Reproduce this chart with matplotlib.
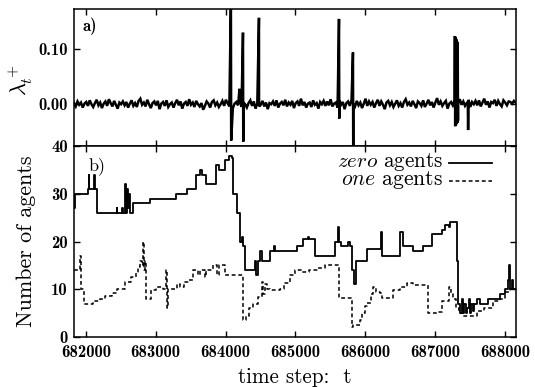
import matplotlib
matplotlib.use("Agg")
import matplotlib.pyplot as plt
from matplotlib.lines import Line2D

plt.rcParams['mathtext.fontset'] = 'cm'
plt.rcParams['axes.unicode_minus'] = False
plt.rcParams['font.family'] = ['cmr10', 'DejaVu Serif']

# ---------------- data ----------------
# panel a) : lambda_t^+ background fluctuation (thousandths), every 25 steps from 681830
lam_start = 681830
lam_step = 25
lam_noise = [2, -4, 5, -1, 3, -6, 1, 4, -3, 7,
             0, -5, 2, 8, -2, 3, -7, 1, 5, -3,
             9, 2, -4, 6, -1, -8, 3, 0, 5, -2,
             4, -6, 1, 7, -3, 2, -5, 6, 10, -1,
             3, -4, 8, 0, -7, 2, 5, -2, 6, -9,
             1, 4, -3, 7, -5, 0, 3, -6, 2, 8,
             -2, 5, -8, 1, 4, -3, 9, -1, 3, -5,
             6, 0, -4, 2, -10, -3, 5, 1, -6, 4,
             7, -2, 3, -5, 0, 6, -3, 8, 2, -4,
             5, -7, 1, 4, -2, 9, -5, 3, 0, -6,
             2, 7, -3, 5, -8, 1, 4, -1, 6, -4,
             3, -9, 2, 0, 5, -3, 7, -6, 1, 4,
             -2, 8, -4, 3, -1, 6, -7, 2, 5, -3,
             10, -2, 4, -6, 1, 3, -5, 7, -1, 2,
             -8, 4, 0, 6, -3, 5, -2, 9, -4, 1,
             3, -6, 7, -1, 4, -9, 2, 5, -3, 8,
             0, -4, 6, -2, 3, -7, 1, 10, -3, 5,
             -1, 4, -6, 2, 8, -3, 5, -1, -9, 3,
             6, -2, 4, -5, 1, 7, -3, 2, -6, 4,
             9, -1, 3, -4, 6, 0, -7, 5, 2, -3,
             7, -5, 1, 8, -2, 4, -6, 3, 11, -1,
             5, -3, 2, 6, -8, 1, 4, -2, 7, -4,
             3, 9, -1, 5, -3, 2, 8, -5, 4, 0,
             6, -2, 7, -4, 3, 10, -1, 5, -6, 4,
             2, 8, -3, 6, 0, -4, 7, 3, -2, 5,
             4, 1, 6]
lam_end_t = 688160
lam_end_v = 2
spike_t = [684077, 684200, 684250, 684479, 685625, 685825,
           687285, 687295, 687305, 687315, 687325, 687470]
spike_hi = [0.185, 0.028, 0.130, 0.157, 0.155, 0.094,
            0.124, 0.122, 0.118, 0.114, 0.112, 0.000]
spike_lo = [-0.066, 0.020, -0.068, -0.004, -0.026, -0.085,
            -0.040, -0.038, -0.036, -0.034, -0.030, -0.047]

# panel b) : zero agents (solid)
zero_t = [681830, 681845, 682030, 682040, 682050, 682120, 682135, 682160, 682440, 682450,
          682520, 682530, 682560, 682575, 682590, 682605, 682620, 682635, 682670, 682920,
          683290, 683450, 683580, 683640, 683660, 683720, 683870, 683900, 683990, 684050,
          684092, 684100, 684160, 684205, 684235, 684250, 684275, 684420, 684440, 684460,
          684500, 684520, 684640, 684700, 684710, 685020, 685110, 685180, 685200, 685280,
          685570, 685610, 685625, 685660, 685760, 685780, 685810, 685840, 685870, 686030,
          686230, 686245, 686500, 686540, 686680, 686830, 686960, 687100, 687150, 687200,
          687220, 687320, 687335, 687360, 687380, 687400, 687420, 687440, 687460, 687480,
          687500, 687520, 687540, 687560, 687600, 687640, 687760, 687780, 687930, 688000,
          688040, 688060, 688075, 688100, 688120, 688160]
zero_v = [27, 30, 31, 34, 31, 34, 31, 26, 27, 26,
          27, 26, 32, 26, 31, 27, 30, 26, 28, 29,
          30, 31, 34, 35, 34, 32, 36, 35, 37, 38,
          37.5, 30, 26, 20, 21, 19, 14, 16, 13, 16,
          18, 16, 18, 19, 18, 19, 20.5, 21, 20.5, 17,
          20, 23, 20, 19, 20, 19, 14, 11, 16, 18.5,
          22, 17, 22, 19, 18, 19, 21.5, 22.5, 23.5, 23,
          24, 16, 7, 5, 8, 5, 7, 5, 6, 8,
          5, 7, 5.5, 7, 8, 7, 8, 8, 9, 10,
          12, 15, 10, 12, 10, 10]

# panel b) : one agents (dashed)
one_t = [681830, 681920, 681935, 681975, 682100, 682200, 682280, 682380, 682450, 682560,
         682650, 682720, 682750, 682780, 682800, 682820, 682835, 682850, 682860, 682930,
         683000, 683100, 683150, 683160, 683175, 683300, 683350, 683400, 683480, 683530,
         683600, 683630, 683700, 683720, 683820, 683880, 683900, 683990, 684250, 684290,
         684330, 684400, 684460, 684520, 684540, 684570, 684600, 684640, 684780, 684840,
         684920, 684995, 685100, 685190, 685330, 685420, 685620, 685810, 685820, 685920,
         685960, 686000, 686030, 686080, 686110, 686160, 686210, 686240, 686400, 686500,
         686600, 686690, 686900, 687050, 687100, 687200, 687230, 687260, 687300, 687350,
         687400, 687560, 687600, 687700, 687830, 687930, 688000, 688070, 688160]
one_v = [14, 17, 10, 7, 7.5, 8, 8.5, 9.2, 10, 11.5,
         12.5, 13.5, 14.7, 16, 15, 20, 14, 16, 8, 9.8,
         10.5, 10, 14, 6, 10, 11, 10.5, 11.5, 12, 14,
         13, 14, 12.5, 14, 15, 13, 15, 13, 3.6, 4.5,
         6, 7, 8.4, 11.5, 9, 11, 10, 9.8, 10, 11.3,
         13, 14, 13.6, 14, 14.4, 15.1, 8.2, 2.1, 2.5, 3.6,
         5, 6.5, 7.1, 9, 10.5, 9.5, 9.2, 8.2, 9.8, 10.5,
         11.3, 10.9, 5, 5.2, 7.5, 10.5, 9, 8, 6, 5,
         4.5, 4.5, 5.5, 6, 7.5, 8, 9.5, 10, 10]

xticks = [682000, 683000, 684000, 685000, 686000, 687000, 688000]
xlim = (681830, 688160)
ylim_a = (-0.076, 0.173)
yticks_a = [0.0, 0.1]
yticklabels_a = ['0.00', '0.10']
ylim_b = (0, 40)
yticks_b = [0, 10, 20, 30, 40]
legend_labels = [r'$\mathit{zero}$ agents', r'$\mathit{one}$ agents']

# ---------------- build lambda series ----------------
lam_t = [lam_start + i * lam_step for i in range(len(lam_noise))] + [lam_end_t]
lam_v = [v / 1000.0 for v in lam_noise] + [lam_end_v / 1000.0]
pts = list(zip(lam_t, lam_v))
for t, hi, lo in zip(spike_t, spike_hi, spike_lo):
    pts.append((t, hi))
    pts.append((t + 4, lo))
pts.sort(key=lambda p: p[0])
lt = [p[0] for p in pts]
lv = [p[1] for p in pts]

# ---------------- figure ----------------
fig = plt.figure(figsize=(5.35, 3.87), dpi=100)
ax1 = fig.add_axes([0.1383, 0.6227, 0.8262, 0.3540])
ax2 = fig.add_axes([0.1383, 0.1292, 0.8262, 0.4935])

ax1.plot(lt, lv, color='black', lw=1.8, solid_joinstyle='miter')
ax1.set_xlim(*xlim)
ax1.set_ylim(*ylim_a)
ax1.set_yticks(yticks_a)
ax1.set_yticklabels(yticklabels_a)
ax1.set_xticks(xticks)
ax1.set_xticklabels([])
ax1.set_ylabel(r'$\lambda_t^+$', fontsize=16)
ax1.yaxis.set_label_coords(-0.088, 0.48)
ax1.text(0.02, 0.94, 'a)', transform=ax1.transAxes, fontsize=12,
         family='cmb10', va='top', ha='left')

ax2.step(zero_t, zero_v, where='post', color='black', lw=1.3)
ax2.step(one_t, one_v, where='post', color='black', lw=1.1, dashes=(2.5, 1.8))
ax2.set_xlim(*xlim)
ax2.set_ylim(*ylim_b)
ax2.set_yticks(yticks_b)
ax2.set_xticks(xticks)
xlab = ax2.set_xlabel('time step:  t', fontsize=15)
ylab2 = ax2.set_ylabel('Number of agents', fontsize=15)
ax2.xaxis.set_label_coords(0.5, -0.16)
ax2.yaxis.set_label_coords(-0.085, 0.5)
ax2.text(0.033, 0.94, 'b)', transform=ax2.transAxes, fontsize=13,
         va='top', ha='left')

# manual legend (text right-aligned, sample line after the text)
leg_texts = []
for lab, ty, ly, ds in zip(legend_labels, [0.892, 0.798], [0.912, 0.815],
                           [None, (2.5, 1.8)]):
    tx = ax2.text(0.835, ty, lab, transform=ax2.transAxes, ha='right', va='baseline',
                  fontsize=14.5)
    leg_texts.append(tx)
    ln = Line2D([0.848, 0.945], [ly, ly], transform=ax2.transAxes, color='black',
                lw=1.3 if ds is None else 1.1)
    if ds is not None:
        ln.set_dashes(ds)
    ax2.add_line(ln)

for ax in (ax1, ax2):
    ax.tick_params(direction='in', top=True, right=True, length=4, width=1.0,
                   labelsize=12)
    ax.tick_params(axis='y', pad=4.5)
    ax.tick_params(axis='x', pad=5.5)
    for lab in ax.get_xticklabels() + ax.get_yticklabels():
        lab.set_family('cmb10')
    for s in ax.spines.values():
        s.set_linewidth(1.1)

# ---- size text to match the reference pixel extents ----
fig.canvas.draw()
r = fig.canvas.get_renderer()


def fit(t, target, horiz=True):
    bb = t.get_window_extent(r)
    cur = bb.width if horiz else bb.height
    if cur > 0:
        t.set_fontsize(t.get_fontsize() * target / cur)


fit(xlab, 114, True)
fit(ylab2, 172, False)
for tx, w in zip(leg_texts, [106, 102]):
    fit(tx, w, True)
xt = [l for l in ax2.get_xticklabels() if l.get_text() == '682000']
if xt:
    bb = xt[0].get_window_extent(r)
    s = 12 * 50 / bb.width
    for ax in (ax1, ax2):
        ax.tick_params(labelsize=s)
        for lab in ax.get_xticklabels() + ax.get_yticklabels():
            lab.set_family('cmb10')

fig.savefig('out.png', dpi=100)
